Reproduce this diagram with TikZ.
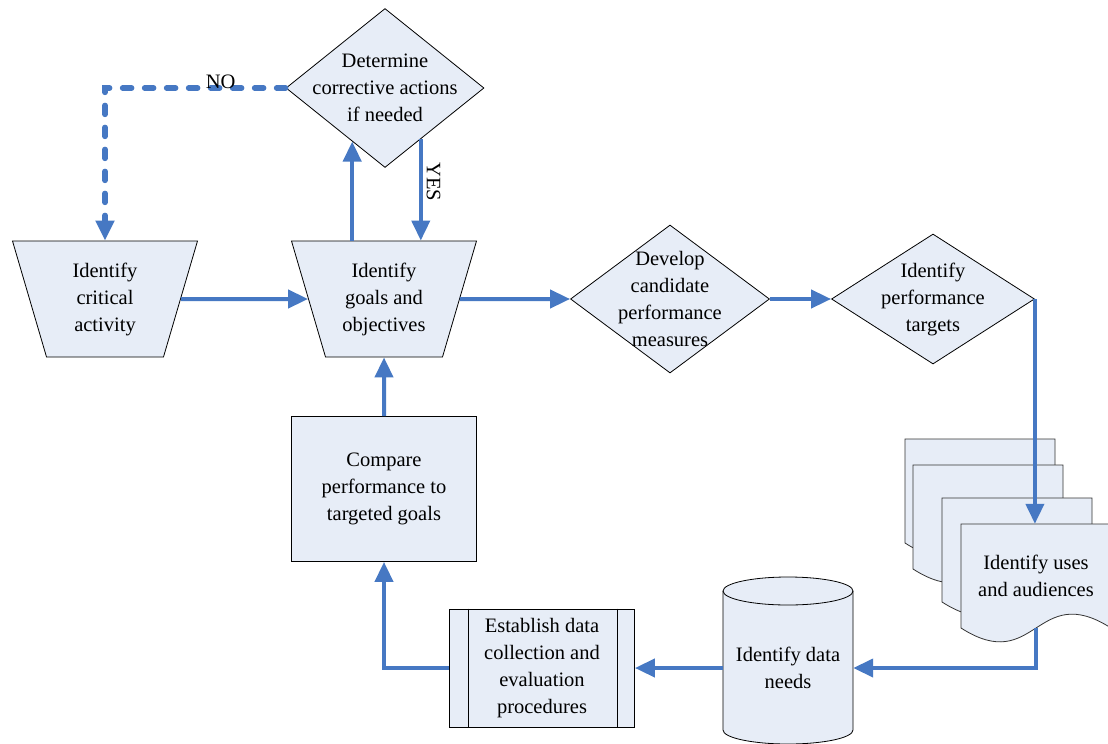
\documentclass[tikz,border=0pt]{standalone}
\usepackage{fontspec}
\setmainfont{Liberation Serif}
\usetikzlibrary{shapes.geometric,arrows.meta,calc}
\definecolor{flowblue}{RGB}{70,120,195}
\definecolor{boxfill}{RGB}{231,237,247}
\tikzset{
    flow-text/.style = {align=center, font=\fontsize{20.5}{27}\selectfont, inner sep=0pt},
    flow-box/.style = {draw, fill=boxfill, rectangle, line width=0.8pt, flow-text},
    flow-trap/.style = {flow-box, trapezium, inner ysep=21pt, trapezium left angle=106.5, trapezium right angle=106.5, trapezium stretches body, minimum width=185pt, minimum height=116pt},
    flow-diamond/.style = {draw, fill=boxfill, diamond, line width=0.8pt, inner sep=0pt},
    flow-arrow/.style = {draw=flowblue, line width=4pt, -{Triangle[length=20pt,width=18pt]}},
    flow-dash/.style = {line width=5.5pt, dash pattern=on 9pt off 13pt, line cap=round},
    doc-page/.style = {draw=black!80, fill=boxfill, line width=0.8pt},
}
\newcommand{\docpage}[2]{\draw[doc-page] (#1,#2) -- (#1,#2+104) .. controls (#1+75,#2+152) and (#1+75,#2+56) .. (#1+150,#2+104) -- (#1+150,#2) -- cycle;}

\begin{document}
\begin{tikzpicture}[x=1pt,y=-1pt]
\fill[white] (0,0) rectangle (1108,744);
\useasboundingbox (0,0) rectangle (1108,744);

\node[flow-diamond, minimum width=198pt, minimum height=159pt] (decide) at (385,88) {};
\node[flow-text] (decide-label) at (decide) {Determine\\corrective actions\\if needed};
\node[flow-trap] (critical) at (105,299) {Identify\\critical\\activity};
\node[flow-trap] (goals) at (384,299) {Identify\\goals and\\objectives};
\node[flow-diamond, minimum width=199pt, minimum height=148pt] (develop) at (670,299) {};
\node[flow-text] (develop-label) at (develop) {Develop\\candidate\\performance\\measures};
\node[flow-diamond, minimum width=203pt, minimum height=130pt] (targets) at (933,299) {};
\node[flow-text] (targets-label) at (targets) {Identify\\performance\\targets};
\node[flow-box, minimum width=185pt, minimum height=145pt] (compare) at (384,489) {Compare\\performance to\\targeted goals};

\docpage{905}{439}
\docpage{913}{465}
\docpage{942}{498}
\docpage{961}{524}
\node[flow-text, minimum width=150pt, minimum height=104pt] (uses) at (1036,576) {Identify uses\\and audiences};

\draw[doc-page, draw=black] (723,591) -- (723,730) arc[start angle=180, end angle=360, x radius=65pt, y radius=14pt] -- (853,591) arc[start angle=0, end angle=180, x radius=65pt, y radius=14pt] -- cycle;
\draw[line width=0.8pt] (723,591) arc[start angle=180, end angle=360, x radius=65pt, y radius=14pt];
\node[flow-text, minimum width=130pt, minimum height=150pt] (needs) at (788,668) {Identify data\\needs};

\node[flow-box, minimum width=185pt, minimum height=118pt] (proc) at (542,668) {Establish data\\collection and\\evaluation\\procedures};
\draw[line width=0.8pt] ([xshift=19pt]proc.north west) -- ([xshift=19pt]proc.south west);
\draw[line width=0.8pt] ([xshift=-18pt]proc.north east) -- ([xshift=-18pt]proc.south east);

\coordinate (up-end) at ($(decide.south west)!0.34!(decide.south)$);
\coordinate (yes-start) at ($(decide.south)!0.72!(decide.south east)$);

\draw[flow-arrow, flow-dash] (decide.west) -| (critical.north) node[pos=0.18, anchor=south, inner sep=0pt, font=\fontsize{20.5}{27}\selectfont, yshift=-3pt] {NO};
\draw[flow-arrow] (goals.north -| up-end) -- (up-end);
\draw[flow-arrow] (yes-start) -- (yes-start |- goals.north) node[pos=0.42, anchor=south, rotate=-90, inner sep=4pt, font=\fontsize{20.5}{27}\selectfont] {YES};
\draw[flow-arrow] (critical.east) -- (goals.west);
\draw[flow-arrow] (goals.east) -- (develop.west);
\draw[flow-arrow] (develop.east) -- (targets.west);
\draw[flow-arrow] (targets.east) -- (targets.east |- uses.north);
\draw[flow-arrow] (uses.south) |- (needs.east);
\draw[flow-arrow] (needs.west) -- (proc.east);
\draw[flow-arrow] (proc.west) -| (compare.south);
\draw[flow-arrow] (compare.north) -- (goals.south);
\end{tikzpicture}
\end{document}
